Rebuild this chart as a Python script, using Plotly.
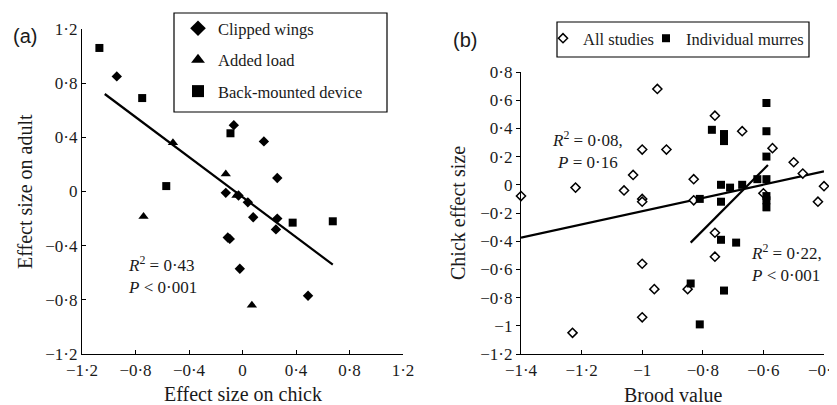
import plotly.graph_objects as go

W, H = 837, 405
OFF = 8  # page body margin offset

# ---------------- Panel (a) data ----------------
clipped_x = [-0.94, -0.065, 0.16, 0.26, -0.125, -0.03, 0.04, 0.08, 0.26, 0.25, -0.11, -0.095, -0.02, 0.49]
clipped_y = [0.85, 0.49, 0.37, 0.10, -0.01, -0.03, -0.08, -0.19, -0.20, -0.28, -0.34, -0.35, -0.57, -0.77]
added_x = [-0.52, -0.125, -0.045, -0.74, 0.07]
added_y = [0.36, 0.13, -0.03, -0.185, -0.84]
back_x = [-1.07, -0.75, -0.09, -0.57, 0.375, 0.675]
back_y = [1.06, 0.69, 0.43, 0.04, -0.23, -0.22]
fit_a_x = [-1.03, 0.675]
fit_a_y = [0.72, -0.54]

a_tickvals = [-1.2, -0.8, -0.4, 0, 0.4, 0.8, 1.2]
a_ticktext = ["\u22121\u00b72", "\u22120\u00b78", "\u22120\u00b74", "0", "0\u00b74", "0\u00b78", "1\u00b72"]

# ---------------- Panel (b) data ----------------
all_x = [-1.40, -1.22, -0.95, -1.00, -0.92, -1.03, -1.06, -1.00, -1.00, -0.83, -0.83, -0.76, -0.67,
         -0.57, -0.60, -0.50, -0.47, -0.40, -0.42, -0.76, -0.76, -1.00, -0.96, -0.85, -1.00, -1.23]
all_y = [-0.08, -0.02, 0.68, 0.25, 0.25, 0.07, -0.04, -0.10, -0.12, 0.04, -0.11, 0.49, 0.38,
         0.26, -0.06, 0.16, 0.08, -0.01, -0.12, -0.34, -0.51, -0.56, -0.74, -0.74, -0.94, -1.05]
murre_x = [-0.59, -0.59, -0.77, -0.73, -0.73, -0.59, -0.74, -0.71, -0.67, -0.62, -0.59,
           -0.59, -0.59, -0.59, -0.81, -0.74, -0.74, -0.69, -0.84, -0.73, -0.81]
murre_y = [0.58, 0.38, 0.39, 0.36, 0.31, 0.20, 0.00, -0.02, 0.00, 0.04, 0.04,
           -0.08, -0.11, -0.16, -0.10, -0.12, -0.39, -0.41, -0.70, -0.75, -0.99]
fit_all_x = [-1.4, -0.4]
fit_all_y = [-0.375, 0.095]
fit_murre_x = [-0.84, -0.585]
fit_murre_y = [-0.41, 0.14]

bx_tickvals = [-1.4, -1.2, -1.0, -0.8, -0.6, -0.4]
bx_ticktext = ["\u22121\u00b74", "\u22121\u00b72", "\u22121", "\u22120\u00b78", "\u22120\u00b76", "\u22120\u00b74"]
by_tickvals = [0.8, 0.6, 0.4, 0.2, 0, -0.2, -0.4, -0.6, -0.8, -1.0, -1.2]
by_ticktext = ["0\u00b78", "0\u00b76", "0\u00b74", "0\u00b72", "0", "\u22120\u00b72", "\u22120\u00b74",
               "\u22120\u00b76", "\u22120\u00b78", "\u22121", "\u22121\u00b72"]

SERIF = "Liberation Serif, Times New Roman, serif"
SANS = "Liberation Sans, Arial, sans-serif"
INK = "#1a1a1a"


def px(x):
    return (x - OFF) / W


def py(y):
    return 1 - (y - OFF) / H


fig = go.Figure()

# Panel (a) traces
fig.add_trace(go.Scatter(x=clipped_x, y=clipped_y, mode="markers", name="Clipped wings",
                         marker=dict(symbol="diamond", size=8, color="black"),
                         xaxis="x", yaxis="y", legend="legend", legendgroup="g1"))
fig.add_trace(go.Scatter(x=added_x, y=added_y, mode="markers", name="Added load",
                         marker=dict(symbol="triangle-up", size=9, color="black"),
                         xaxis="x", yaxis="y", legend="legend", legendgroup="g2"))
fig.add_trace(go.Scatter(x=back_x, y=back_y, mode="markers", name="Back-mounted device",
                         marker=dict(symbol="square", size=8, color="black"),
                         xaxis="x", yaxis="y", legend="legend", legendgroup="g3"))
fig.add_trace(go.Scatter(x=fit_a_x, y=fit_a_y, mode="lines", showlegend=False,
                         line=dict(color="black", width=2.2), xaxis="x", yaxis="y"))

# Panel (b) traces
fig.add_trace(go.Scatter(x=fit_all_x, y=fit_all_y, mode="lines", showlegend=False,
                         line=dict(color="black", width=2.2), xaxis="x2", yaxis="y2"))
fig.add_trace(go.Scatter(x=fit_murre_x, y=fit_murre_y, mode="lines", showlegend=False,
                         line=dict(color="black", width=2.2), xaxis="x2", yaxis="y2"))
fig.add_trace(go.Scatter(x=all_x, y=all_y, mode="markers", name="All studies",
                         marker=dict(symbol="diamond", size=7, color="white",
                                     line=dict(color="black", width=1.5)),
                         xaxis="x2", yaxis="y2", legend="legend2", cliponaxis=False))
fig.add_trace(go.Scatter(x=murre_x, y=murre_y, mode="markers", name="Individual murres",
                         marker=dict(symbol="square", size=8, color="black"),
                         xaxis="x2", yaxis="y2", legend="legend3", cliponaxis=False))

axis_common = dict(showgrid=False, zeroline=False, showline=True, linecolor="black", linewidth=1.4,
                   tickcolor="black", tickwidth=1.3, tickfont=dict(family=SERIF, size=17, color=INK),
                   tickmode="array", fixedrange=True)

legend_common = dict(xanchor="left", yanchor="top", bgcolor="rgba(0,0,0,0)", borderwidth=0)


def label(text, x, y, size, family=SERIF, angle=0):
    return dict(text=text, x=px(x), y=py(y), xref="paper", yref="paper", xanchor="center",
                yanchor="middle", textangle=angle, showarrow=False,
                font=dict(family=family, size=size, color=INK))


fig.update_layout(
    width=W, height=H, template="none",
    paper_bgcolor="white", plot_bgcolor="white",
    margin=dict(l=0, r=0, t=0, b=0),
    font=dict(family=SERIF, size=17, color=INK),
    xaxis=dict(domain=[px(82), px(403)], range=[-1.2, 1.2], tickvals=a_tickvals, ticktext=a_ticktext,
               ticks="inside", ticklen=4, anchor="y", **axis_common),
    yaxis=dict(domain=[py(354), py(29)], range=[-1.2, 1.2], tickvals=a_tickvals, ticktext=a_ticktext,
               ticks="inside", ticklen=4, anchor="x", **axis_common),
    xaxis2=dict(domain=[px(521), px(824)], range=[-1.4, -0.4], tickvals=bx_tickvals, ticktext=bx_ticktext,
                ticks="inside", ticklen=4, anchor="y2", **axis_common),
    yaxis2=dict(domain=[py(354), py(72)], range=[-1.2, 0.8], tickvals=by_tickvals, ticktext=by_ticktext,
                ticks="outside", ticklen=4, anchor="x2", **axis_common),
    legend=dict(x=px(178), y=py(11), font=dict(family=SERIF, size=16.5, color=INK),
                tracegroupgap=7, itemsizing="constant", **legend_common),
    legend2=dict(x=px(543), y=py(21), font=dict(family=SERIF, size=16.5, color=INK), **legend_common),
    legend3=dict(x=px(646), y=py(21), font=dict(family=SERIF, size=16.5, color=INK), **legend_common),
    shapes=[
        dict(type="rect", xref="paper", yref="paper", x0=px(174), x1=px(387), y0=py(112), y1=py(13),
             line=dict(color="black", width=1.2), fillcolor="rgba(0,0,0,0)", layer="above"),
        dict(type="rect", xref="paper", yref="paper", x0=px(557), x1=px(809), y0=py(57), y1=py(22),
             line=dict(color="black", width=1.2), fillcolor="rgba(0,0,0,0)", layer="above"),
    ],
    annotations=[
        label("(a)", 25, 36, 20, SANS),
        label("(b)", 465, 40, 20, SANS),
        label("Effect size on chick", 242.5, 394, 20),
        label("Brood value", 672.5, 395, 20),
        label("Effect size on adult", 25, 192, 20, angle=-90),
        label("Chick effect size", 458, 213, 20, angle=-90),
        dict(text="<i>R</i><sup>2</sup> = 0\u00b743<br><i>P</i> < 0\u00b7001", x=-0.87, y=-0.615,
             xref="x", yref="y", xanchor="left", yanchor="middle", align="left", showarrow=False,
             font=dict(family=SERIF, size=17, color=INK)),
        dict(text="<i>R</i><sup>2</sup> = 0\u00b708,<br><i>P</i> = 0\u00b716", x=-1.18, y=0.25,
             xref="x2", yref="y2", xanchor="center", yanchor="middle", align="center", showarrow=False,
             font=dict(family=SERIF, size=17, color=INK)),
        dict(text="<i>R</i><sup>2</sup> = 0\u00b722,<br><i>P</i> < 0\u00b7001", x=-0.523, y=-0.556,
             xref="x2", yref="y2", xanchor="center", yanchor="middle", align="left", showarrow=False,
             font=dict(family=SERIF, size=17, color=INK)),
    ],
)

fig.write_html("out.html")
